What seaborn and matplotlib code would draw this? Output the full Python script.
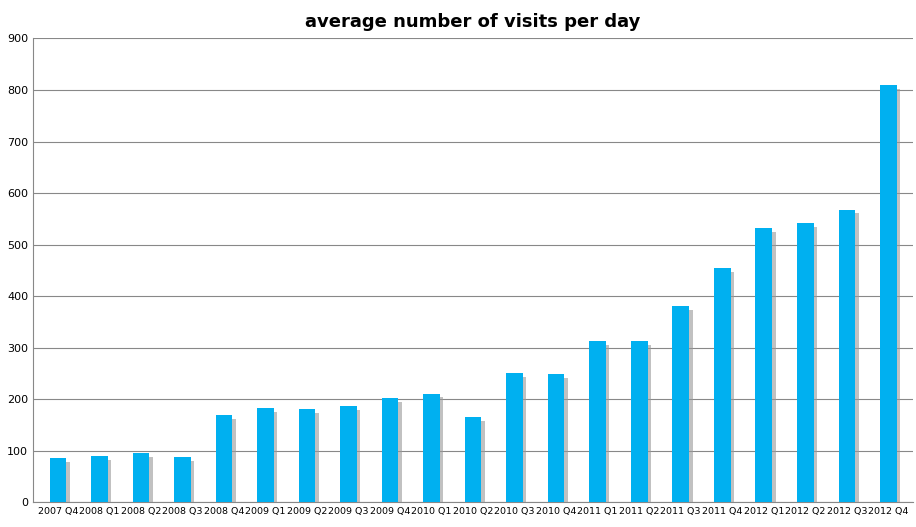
import matplotlib
matplotlib.use("Agg")
import matplotlib.pyplot as plt
import seaborn as sns
import pandas as pd
import matplotlib.patheffects as pe

quarters = ["2007 Q4","2008 Q1","2008 Q2","2008 Q3","2008 Q4","2009 Q1","2009 Q2","2009 Q3",
            "2009 Q4","2010 Q1","2010 Q2","2010 Q3","2010 Q4","2011 Q1","2011 Q2","2011 Q3",
            "2011 Q4","2012 Q1","2012 Q2","2012 Q3","2012 Q4"]
visits = [85,89,95,87,169,182,180,186,202,211,165,250,248,312,312,380,454,532,541,568,809]
yticks = [0,100,200,300,400,500,600,700,800,900]

df = pd.DataFrame({"q": quarters, "v": visits})
fig = plt.figure(figsize=(9.16,5.27), dpi=100)
ax = fig.add_axes([0.036, 0.047, 0.961, 0.88])
sns.barplot(data=df, x="q", y="v", color="#00B0F0", saturation=1, width=0.4, ax=ax, zorder=3)
for p in ax.patches:
    p.set_path_effects([pe.SimplePatchShadow(offset=(2.5,-2.5), shadow_rgbFace="#999999", alpha=0.6), pe.Normal()])
ax.set_ylim(0,900)
ax.set_yticks(yticks)
ax.grid(axis="y", color="#888888", linewidth=0.8, zorder=0)
ax.set_xlabel(""); ax.set_ylabel("")
ax.tick_params(axis="y", labelsize=8, length=0)
ax.tick_params(axis="x", labelsize=6.8, length=0)
for s in ["top","right"]:
    ax.spines[s].set_visible(False)
ax.spines["left"].set_color("#888888"); ax.spines["bottom"].set_color("#888888")
ax.set_xlim(-0.6, len(quarters)-0.4)
ax.set_title("average number of visits per day", fontsize=13, fontweight="bold", pad=8)
fig.savefig("out.png", dpi=100)
